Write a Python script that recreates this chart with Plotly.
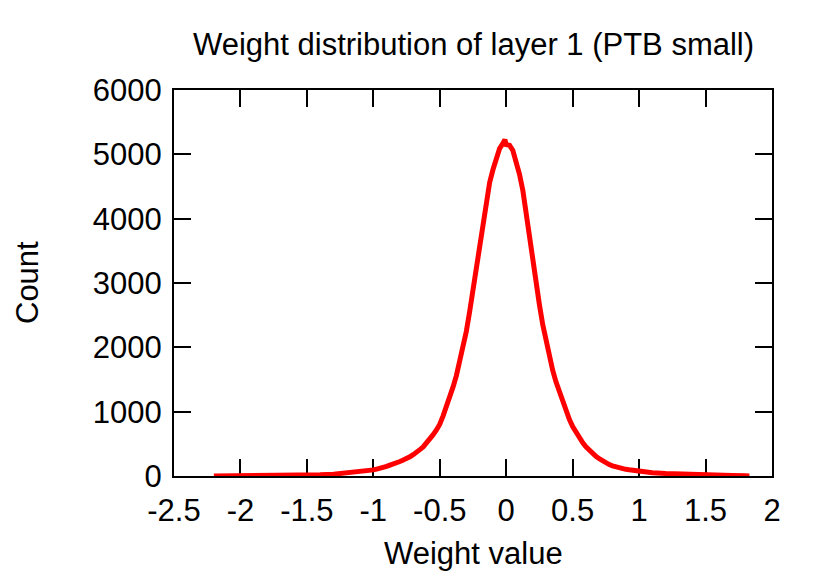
import plotly.graph_objects as go

# Histogram of weight values
weight_values = [
    -2.2, -2.1, -2.0, -1.9, -1.8, -1.7, -1.6, -1.5, -1.4, -1.3, -1.2, -1.1,
    -1.000, -0.975, -0.950, -0.925, -0.900, -0.875, -0.850, -0.825, -0.800, -0.775,
    -0.750, -0.725, -0.700, -0.675, -0.650, -0.625, -0.600, -0.575, -0.550, -0.525,
    -0.500, -0.475, -0.450, -0.425, -0.400, -0.375, -0.350, -0.325, -0.300, -0.275,
    -0.250, -0.225, -0.200, -0.175, -0.150, -0.125, -0.100, -0.075, -0.050, -0.025,
    -0.010, 0.000, 0.025, 0.050, 0.075, 0.100, 0.125, 0.150, 0.175, 0.200,
    0.225, 0.250, 0.275, 0.300, 0.325, 0.350, 0.375, 0.400, 0.425, 0.450,
    0.475, 0.500, 0.525, 0.550, 0.575, 0.600, 0.625, 0.650, 0.675, 0.700,
    0.725, 0.750, 0.775, 0.800, 0.825, 0.850, 0.875, 0.900, 0.925, 0.950,
    0.975, 1.000, 1.05, 1.1, 1.2, 1.3, 1.4, 1.5, 1.6, 1.7, 1.8, 1.83,
]
counts = [
    0, 1, 2, 3, 4, 6, 8, 12, 18, 28, 45, 65,
    95, 108, 118, 140, 150, 170, 182, 205, 225, 248,
    268, 300, 332, 362, 410, 452, 510, 570, 642, 715,
    805, 935, 1075, 1220, 1385, 1560, 1770, 1990, 2250, 2560,
    2900, 3260, 3600, 3950, 4250, 4560, 4760, 4960, 5090, 5170,
    5230, 5150, 5140, 5060, 4900, 4690, 4440, 4060, 3720, 3350,
    3010, 2660, 2350, 2080, 1850, 1640, 1460, 1300, 1150, 1010,
    880, 770, 680, 600, 520, 455, 400, 350, 305, 268,
    232, 200, 178, 158, 140, 128, 115, 104, 96, 88,
    80, 75, 62, 52, 40, 30, 22, 16, 10, 6, 3, 1,
]

x_ticks = [-2.5, -2, -1.5, -1, -0.5, 0, 0.5, 1, 1.5, 2]
x_tick_labels = ["-2.5", "-2", "-1.5", "-1", "-0.5", "0", "0.5", "1", "1.5", "2"]
y_ticks = [0, 1000, 2000, 3000, 4000, 5000, 6000]
y_tick_labels = ["0", "1000", "2000", "3000", "4000", "5000", "6000"]

title_text = "Weight distribution of layer 1 (PTB small)"
x_title = "Weight value"
y_title = "Count"

FONT = "Liberation Sans, Arial, Helvetica, sans-serif"

fig = go.Figure()
fig.add_trace(go.Scatter(
    x=weight_values, y=counts, mode="lines",
    line=dict(color="#ff0000", width=5),
    showlegend=False, hoverinfo="skip",
))

axis_common = dict(
    showline=True, linecolor="black", linewidth=2, mirror="allticks",
    ticks="inside", ticklen=17, tickwidth=2, tickcolor="black",
    showgrid=False, zeroline=False, layer="below traces",
    tickfont=dict(family=FONT, size=31, color="black"),
)

fig.update_xaxes(range=[-2.5, 2], tickvals=x_ticks, ticktext=x_tick_labels,
                 ticklabelstandoff=6, **axis_common)
fig.update_yaxes(range=[0, 6000], tickvals=y_ticks, ticktext=y_tick_labels,
                 ticklabelstandoff=4, **axis_common)

# page body adds an 8px offset, so margins are compensated
fig.update_layout(
    width=830, height=577,
    margin=dict(l=166, r=66, t=82, b=109),
    plot_bgcolor="white", paper_bgcolor="white",
    font=dict(family=FONT, color="black"),
    annotations=[
        dict(text=title_text, xref="paper", yref="paper", x=0.5, y=1.1166,
             xanchor="center", yanchor="middle", showarrow=False,
             font=dict(family=FONT, size=31, color="black")),
        dict(text=x_title, xref="paper", yref="paper", x=0.5, y=-0.1995,
             xanchor="center", yanchor="middle", showarrow=False,
             font=dict(family=FONT, size=31, color="black")),
        dict(text=y_title, xref="paper", yref="paper", x=-0.2458, y=0.5,
             xanchor="center", yanchor="middle", showarrow=False, textangle=-90,
             font=dict(family=FONT, size=31, color="black")),
    ],
)

fig.write_html("out.html")
